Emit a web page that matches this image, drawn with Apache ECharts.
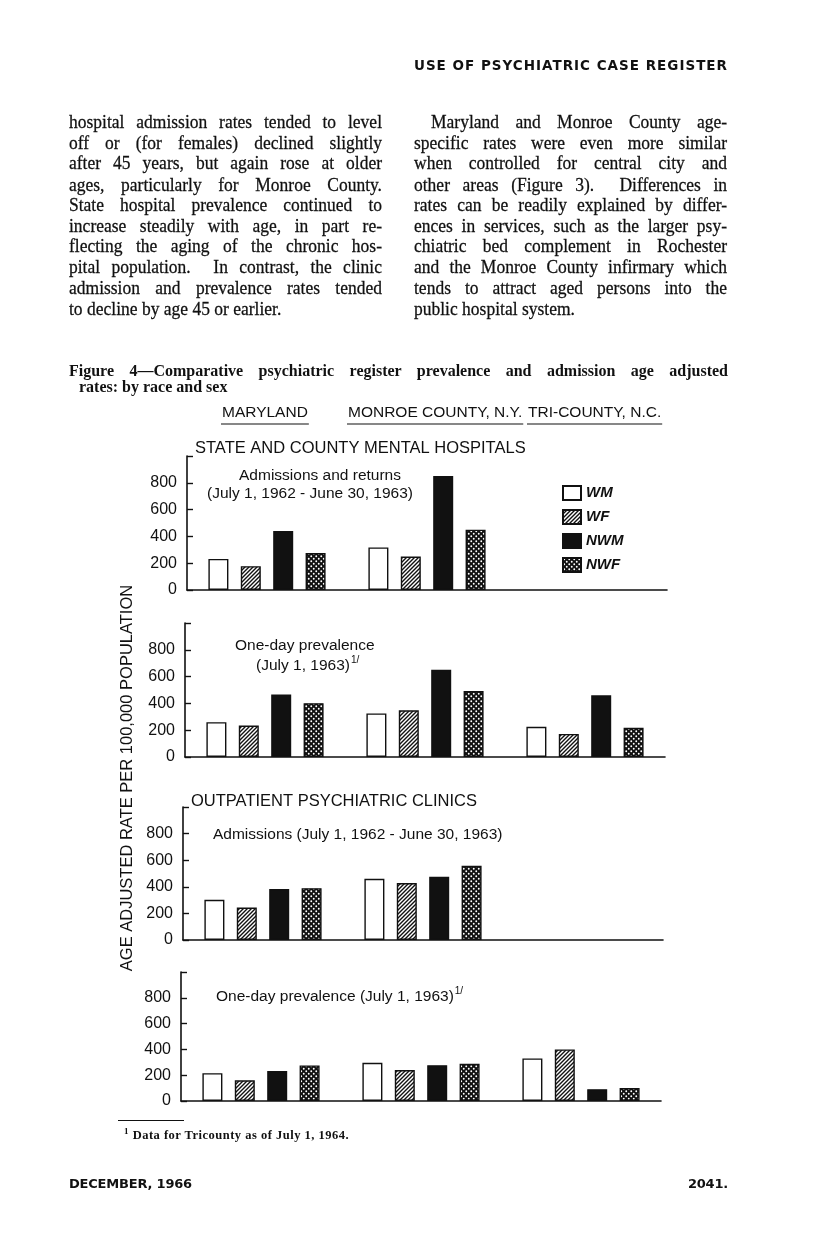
<!DOCTYPE html>
<html>
<head>
<meta charset="utf-8">
<script src="https://cdn.jsdelivr.net/npm/echarts@6/dist/echarts.min.js"></script>
<style>
  body { margin: 0; background: #fff; }
  #page { position: relative; width: 816px; height: 1236px; overflow: hidden; }
  #chart { position: absolute; left: 0; top: 0; width: 816px; height: 1236px; }
  .txt { position: absolute; color: #111; z-index: 2; }
  .hdr { font: bold 13.5px 'DejaVu Sans'; letter-spacing: 1px; }
  .ftr { font: bold 13px 'DejaVu Sans'; letter-spacing: -0.2px; }
  .col { width: 313px; font: 17.5px 'Liberation Serif'; line-height: 18.5px;
         transform: scaleY(1.12); transform-origin: 0 0; -webkit-text-stroke: 0.25px #111; }
  .col div { text-align: justify; text-align-last: justify; white-space: nowrap; }
  .col div.end { text-align-last: left; }
  .cap { width: 659px; font: bold 16px 'Liberation Serif'; line-height: 16px; }
  .foot { font: bold 12.5px 'Liberation Serif'; letter-spacing: 0.5px; }
</style>
</head>
<body>
<div id="page">
  <div id="chart"></div>

  <div class="txt hdr" style="right:88px; top:57px;">USE OF PSYCHIATRIC CASE REGISTER</div>

  <div class="txt col" style="left:69px; top:111px;">
    <div>hospital admission rates tended to level</div>
    <div>off or (for females) declined slightly</div>
    <div>after 45 years, but again rose at older</div>
    <div>ages, particularly for Monroe County.</div>
    <div>State hospital prevalence continued to</div>
    <div>increase steadily with age, in part re-</div>
    <div>flecting the aging of the chronic hos-</div>
    <div>pital population.&nbsp; In contrast, the clinic</div>
    <div>admission and prevalence rates tended</div>
    <div class="end">to decline by age 45 or earlier.</div>
  </div>

  <div class="txt col" style="left:414px; top:111px;">
    <div style="padding-left:17px">Maryland and Monroe County age-</div>
    <div>specific rates were even more similar</div>
    <div>when controlled for central city and</div>
    <div>other areas (Figure 3).&nbsp; Differences in</div>
    <div>rates can be readily explained by differ-</div>
    <div>ences in services, such as the larger psy-</div>
    <div>chiatric bed complement in Rochester</div>
    <div>and the Monroe County infirmary which</div>
    <div>tends to attract aged persons into the</div>
    <div class="end">public hospital system.</div>
  </div>

  <div class="txt cap" style="left:69px; top:363px;">
    <div style="text-align:justify; text-align-last:justify;">Figure 4—Comparative psychiatric register prevalence and admission age adjusted</div>
    <div style="padding-left:10px">rates: by race and sex</div>
  </div>

  <div class="txt" style="left:118px; top:1120px; width:66px; border-top:1px solid #111;"></div>
  <div class="txt foot" style="left:124px; top:1126px;"><sup style="font-size:9px">1</sup> Data for Tricounty as of July 1, 1964.</div>

  <div class="txt ftr" style="left:69px; top:1176px;">DECEMBER, 1966</div>
  <div class="txt ftr" style="right:88px; top:1176px;">2041.</div>
</div>

<script>
// groups and series
let groups = ['MARYLAND', 'MONROE COUNTY, N.Y.', 'TRI-COUNTY, N.C.']
let seriesNames = ['WM', 'WF', 'NWM', 'NWF']
let yTicks = [0, 200, 400, 600, 800, 1000]

// state and county mental hospitals: admissions and returns
let hospAdmWM = [232, 318, null]
let hospAdmWF = [178, 250, null]
let hospAdmNWM = [440, 850, null]
let hospAdmNWF = [276, 450, null]

// state and county mental hospitals: one-day prevalence
let hospPrevWM = [260, 325, 225]
let hospPrevWF = [235, 348, 172]
let hospPrevNWM = [466, 652, 460]
let hospPrevNWF = [402, 492, 218]

// outpatient clinics: admissions
let clinAdmWM = [302, 460, null]
let clinAdmWF = [244, 428, null]
let clinAdmNWM = [384, 476, null]
let clinAdmNWF = [390, 558, null]

// outpatient clinics: one-day prevalence
let clinPrevWM = [216, 296, 330]
let clinPrevWF = [160, 240, 400]
let clinPrevNWM = [232, 278, 92]
let clinPrevNWF = [276, 288, 100]

let panelData = [
    [hospAdmWM, hospAdmWF, hospAdmNWM, hospAdmNWF],
    [hospPrevWM, hospPrevWF, hospPrevNWM, hospPrevNWF],
    [clinAdmWM, clinAdmWF, clinAdmNWM, clinAdmNWF],
    [clinPrevWM, clinPrevWF, clinPrevNWM, clinPrevNWF]
]

// page position of each panel (top = 1000 line, base = 0 line)
let panels = [
    {left: 187, top: 456, base: 590},
    {left: 185, top: 623, base: 757},
    {left: 183, top: 807, base: 940},
    {left: 181, top: 972, base: 1101}
]

var sans = 'Liberation Sans'

function hatchTile() {
    let c = document.createElement('canvas')
    c.width = 4; c.height = 4
    let ctx = c.getContext('2d')
    ctx.fillStyle = '#fff'
    ctx.fillRect(0, 0, 4, 4)
    ctx.strokeStyle = '#111'
    ctx.lineWidth = 1.4
    ctx.beginPath()
    ctx.moveTo(0, 4); ctx.lineTo(4, 0)
    ctx.moveTo(-1, 1); ctx.lineTo(1, -1)
    ctx.moveTo(3, 5); ctx.lineTo(5, 3)
    ctx.stroke()
    return c
}

function dotTile() {
    let c = document.createElement('canvas')
    c.width = 5; c.height = 5
    let ctx = c.getContext('2d')
    ctx.fillStyle = '#111'
    ctx.fillRect(0, 0, 5, 5)
    ctx.fillStyle = '#fff'
    ctx.beginPath()
    ctx.arc(1.25, 1.25, 0.95, 0, Math.PI * 2)
    ctx.arc(3.75, 3.75, 0.95, 0, Math.PI * 2)
    ctx.fill()
    return c
}

let fills = [
    '#fff',
    {image: hatchTile(), repeat: 'repeat'},
    '#111',
    {image: dotTile(), repeat: 'repeat'}
]

let grids = [], xAxes = [], yAxes = [], series = []
panels.forEach((p, g) => {
    grids.push({left: p.left, top: p.top, width: 480, height: p.base - p.top})
    xAxes.push({
        type: 'category', gridIndex: g, data: groups,
        axisLine: {lineStyle: {color: '#111', width: 1.6}},
        axisTick: {show: false}, axisLabel: {show: false}
    })
    yAxes.push({
        type: 'value', gridIndex: g, min: yTicks[0], max: yTicks[yTicks.length - 1], interval: 200,
        splitLine: {show: false},
        axisLine: {show: true, lineStyle: {color: '#111', width: 1.6}},
        axisTick: {show: true, inside: true, length: 6, lineStyle: {color: '#111', width: 1.4}},
        axisLabel: {
            margin: 10, fontFamily: sans, fontSize: 16, color: '#111',
            formatter: v => v === 1000 ? '' : v
        }
    })
    seriesNames.forEach((name, s) => {
        series.push({
            type: 'bar', name: name, xAxisIndex: g, yAxisIndex: g,
            data: panelData[g][s],
            barWidth: 20, barGap: '62%',
            itemStyle: {color: fills[s], borderColor: '#111', borderWidth: 1.4},
            emphasis: {disabled: true}
        })
    })
})

function textW(str, font) {
    let ctx = document.createElement('canvas').getContext('2d')
    ctx.font = font
    return ctx.measureText(str).width
}

function label(text, x, y, size, align) {
    return {
        type: 'text', x: x, y: y,
        style: {text: text, fontFamily: sans, fontSize: size, fill: '#111',
            align: align || 'left', verticalAlign: 'middle'}
    }
}

// column headers with underline
let heads = [
    {text: groups[0], x: 222},
    {text: groups[1], x: 348},
    {text: groups[2], x: 528}
]
let graphics = []
heads.forEach(h => {
    graphics.push(label(h.text, h.x, 413, 15.5))
    let w = textW(h.text, '15.5px ' + sans)
    graphics.push({type: 'line', shape: {x1: h.x - 1, y1: 424, x2: h.x + w + 1, y2: 424},
        style: {stroke: '#111', lineWidth: 1.2}})
})

// superscript footnote mark right after a text
function withNote(text, x, y, size) {
    let w = textW(text, size + 'px ' + sans)
    graphics.push(label(text, x, y, size))
    graphics.push(label('1/', x + w + 1, y - 6, 10))
}

graphics.push(label('STATE AND COUNTY MENTAL HOSPITALS', 195, 448, 16.5))
graphics.push(label('Admissions and returns', 320, 476, 15.5, 'center'))
graphics.push(label('(July 1, 1962 - June 30, 1963)', 207, 494, 15.5))

graphics.push(label('One-day prevalence', 235, 646, 15.5))
withNote('(July 1, 1963)', 256, 666, 15.5)

graphics.push(label('OUTPATIENT PSYCHIATRIC CLINICS', 191, 801, 16.5))
graphics.push(label('Admissions (July 1, 1962 - June 30, 1963)', 213, 835, 15.5))

withNote('One-day prevalence (July 1, 1963)', 216, 997, 15.5)

// y axis title
graphics.push({
    type: 'text', x: 127, y: 778, rotation: Math.PI / 2,
    style: {text: 'AGE ADJUSTED RATE PER 100,000 POPULATION', fontFamily: sans, fontSize: 16.5,
        fill: '#111', align: 'center', verticalAlign: 'middle'}
})

let chart = echarts.init(document.getElementById('chart'))
chart.setOption({
    animation: false,
    backgroundColor: '#fff',
    grid: grids,
    xAxis: xAxes,
    yAxis: yAxes,
    legend: {
        data: seriesNames, orient: 'vertical', left: 557, top: 480,
        icon: 'rect', itemWidth: 18, itemHeight: 14, itemGap: 8,
        selectedMode: false,
        textStyle: {fontFamily: sans, fontSize: 15, fontStyle: 'italic', fontWeight: 'bold', color: '#111'}
    },
    graphic: graphics,
    series: series
})
</script>
</body>
</html>
